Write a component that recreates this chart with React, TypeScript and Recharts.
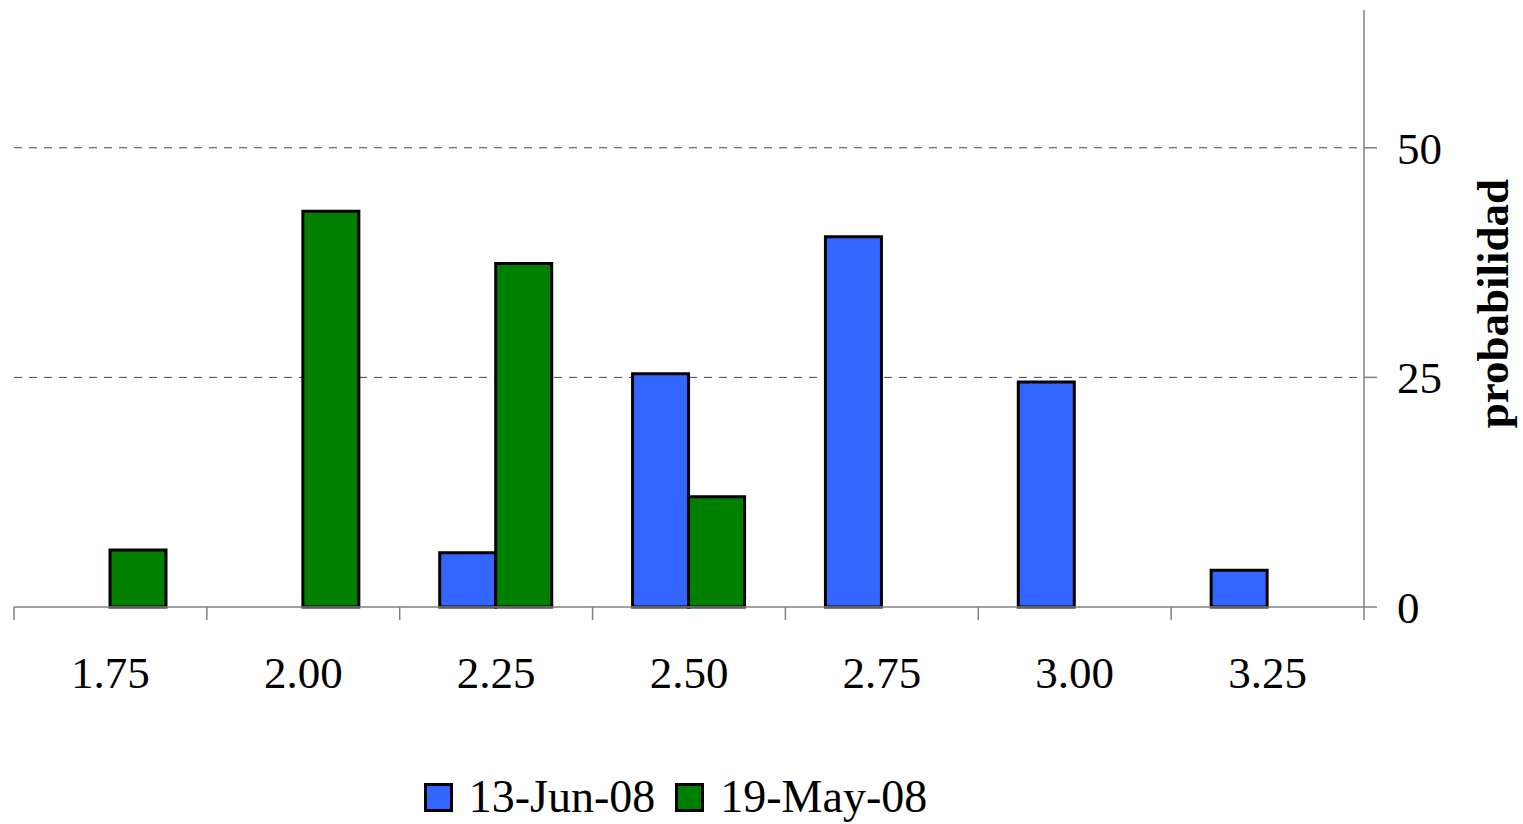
import React from 'react';
import { BarChart, Bar, XAxis, YAxis, CartesianGrid, Legend } from 'recharts';

const categories = ['1.75', '2.00', '2.25', '2.50', '2.75', '3.00', '3.25'];
const jun13: (number | null)[] = [null, null, 5.9, 25.4, 40.3, 24.5, 4.0];
const may19: (number | null)[] = [6.2, 43.1, 37.4, 12.0, null, null, null];
const yTicks = [0, 25, 50];
const gridValues = [25, 50];
const seriesNames = ['13-Jun-08', '19-May-08'];
const seriesColors = ['#3366FF', '#008000'];

const data = categories.map((c, i) => ({ cat: c, a: jun13[i], b: may19[i] }));

const FONT = '"Liberation Serif", "Times New Roman", serif';
const AXIS_GRAY = '#808080';

const XTick = (props: any) => {
  const { x, y, payload, index } = props;
  const half = payload && payload.offset ? payload.offset : 1350 / 7 / 2;
  const last = index === categories.length - 1;
  return (
    <g>
      <line x1={x - half} y1={y} x2={x - half} y2={y + 13} stroke={AXIS_GRAY} strokeWidth={1.5} />
      {last && <line x1={x + half} y1={y} x2={x + half} y2={y + 13} stroke={AXIS_GRAY} strokeWidth={1.5} />}
      <text x={x} y={y + 81} textAnchor="middle" fontSize={45} fontFamily={FONT} fill="#000">
        {payload.value}
      </text>
    </g>
  );
};

const YLabel = (props: any) => {
  const vb = props.viewBox || { x: 1364, y: 10, width: 159, height: 597 };
  const cx = vb.x + 129;
  const cy = vb.y + vb.height / 2 - 5;
  return (
    <text
      x={cx}
      y={cy}
      transform={`rotate(-90 ${cx} ${cy})`}
      textAnchor="middle"
      dominantBaseline="central"
      fontSize={45}
      fontWeight="bold"
      fontFamily={FONT}
      fill="#000"
    >
      probabilidad
    </text>
  );
};

const LegendContent = () => (
  <div
    style={{
      display: 'flex',
      justifyContent: 'center',
      alignItems: 'center',
      height: 56,
      fontFamily: FONT,
      fontSize: 46,
      color: '#000',
    }}
  >
    {seriesNames.map((n, i) => (
      <div key={n} style={{ display: 'flex', alignItems: 'center', marginRight: i === 0 ? 20 : 0 }}>
        <div
          style={{
            width: 23,
            height: 23,
            background: seriesColors[i],
            border: '3px solid #000',
            marginRight: 16,
          }}
        />
        <span style={{ lineHeight: '56px' }}>{n}</span>
      </div>
    ))}
  </div>
);

export default function App() {
  return (
    <div style={{ position: 'absolute', left: 0, top: 0, background: '#fff' }}>
      <BarChart
        width={1523}
        height={824}
        data={data}
        margin={{ top: 10, right: 0, left: 14, bottom: 117 }}
        barGap={0}
        barSize={56}
      >
        <CartesianGrid vertical={false} horizontalValues={gridValues} stroke="#444" strokeDasharray="8 7" />
        <XAxis
          dataKey="cat"
          height={100}
          interval={0}
          tickSize={0}
          tickLine={false}
          tickMargin={0}
          axisLine={{ stroke: AXIS_GRAY, strokeWidth: 1.5 }}
          tick={<XTick />}
        />
        <YAxis
          orientation="right"
          width={159}
          domain={[0, 65]}
          ticks={yTicks}
          interval={0}
          tickSize={13}
          tickMargin={20}
          axisLine={{ stroke: AXIS_GRAY, strokeWidth: 1.5 }}
          tickLine={{ stroke: AXIS_GRAY, strokeWidth: 1.5 }}
          tick={{ fontSize: 45, fontFamily: FONT, fill: '#000' }}
          label={<YLabel />}
        />
        <Legend
          layout="vertical"
          verticalAlign="middle"
          align="center"
          content={<LegendContent />}
          wrapperStyle={{ top: 769, left: 0, width: 1351, right: 'auto', bottom: 'auto', transform: 'none' }}
        />
        <Bar dataKey="a" name={seriesNames[0]} fill={seriesColors[0]} stroke="#000" strokeWidth={3} isAnimationActive={false} />
        <Bar dataKey="b" name={seriesNames[1]} fill={seriesColors[1]} stroke="#000" strokeWidth={3} isAnimationActive={false} />
      </BarChart>
    </div>
  );
}
